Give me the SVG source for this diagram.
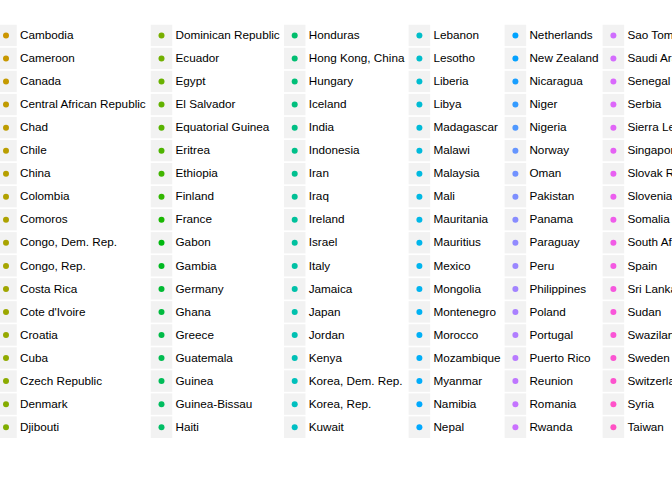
<svg xmlns="http://www.w3.org/2000/svg" width="672" height="480" viewBox="0 0 672 480">
<style>
.k{fill:#F2F2F2;stroke:#FFFFFF;stroke-width:1.5}
.t{font-family:"Liberation Sans",Arial,sans-serif;font-size:11.73px;fill:#000000}
</style>
<defs>
<rect id="key" x="-11.52" y="-11.52" width="23.04" height="23.04"/>
</defs>
<rect x="0" y="0" width="672" height="480" fill="#FFFFFF"/>
<g id="legend">
<g id="col1">
<g id="n-cambodia" transform="translate(6,35.5)"><use href="#key" class="k"/><circle r="3" fill="#CC9600"/><text class="t" x="14" y="3.6">Cambodia</text></g>
<g id="n-cameroon" transform="translate(6,58.54)"><use href="#key" class="k"/><circle r="3" fill="#C89800"/><text class="t" x="14" y="3.6">Cameroon</text></g>
<g id="n-canada" transform="translate(6,81.58)"><use href="#key" class="k"/><circle r="3" fill="#C59A00"/><text class="t" x="14" y="3.6">Canada</text></g>
<g id="n-car" transform="translate(6,104.62)"><use href="#key" class="k"/><circle r="3" fill="#C19B00"/><text class="t" x="14" y="3.6">Central African Republic</text></g>
<g id="n-chad" transform="translate(6,127.66)"><use href="#key" class="k"/><circle r="3" fill="#BD9C00"/><text class="t" x="14" y="3.6">Chad</text></g>
<g id="n-chile" transform="translate(6,150.7)"><use href="#key" class="k"/><circle r="3" fill="#BA9E00"/><text class="t" x="14" y="3.6">Chile</text></g>
<g id="n-china" transform="translate(6,173.74)"><use href="#key" class="k"/><circle r="3" fill="#B69F00"/><text class="t" x="14" y="3.6">China</text></g>
<g id="n-colombia" transform="translate(6,196.78)"><use href="#key" class="k"/><circle r="3" fill="#B1A100"/><text class="t" x="14" y="3.6">Colombia</text></g>
<g id="n-comoros" transform="translate(6,219.82)"><use href="#key" class="k"/><circle r="3" fill="#ADA200"/><text class="t" x="14" y="3.6">Comoros</text></g>
<g id="n-congo-dem" transform="translate(6,242.86)"><use href="#key" class="k"/><circle r="3" fill="#A9A300"/><text class="t" x="14" y="3.6">Congo, Dem. Rep.</text></g>
<g id="n-congo-rep" transform="translate(6,265.9)"><use href="#key" class="k"/><circle r="3" fill="#A5A500"/><text class="t" x="14" y="3.6">Congo, Rep.</text></g>
<g id="n-costa-rica" transform="translate(6,288.94)"><use href="#key" class="k"/><circle r="3" fill="#A0A600"/><text class="t" x="14" y="3.6">Costa Rica</text></g>
<g id="n-cote-divoire" transform="translate(6,311.98)"><use href="#key" class="k"/><circle r="3" fill="#9BA700"/><text class="t" x="14" y="3.6">Cote d'Ivoire</text></g>
<g id="n-croatia" transform="translate(6,335.02)"><use href="#key" class="k"/><circle r="3" fill="#96A900"/><text class="t" x="14" y="3.6">Croatia</text></g>
<g id="n-cuba" transform="translate(6,358.06)"><use href="#key" class="k"/><circle r="3" fill="#90AA00"/><text class="t" x="14" y="3.6">Cuba</text></g>
<g id="n-czech" transform="translate(6,381.1)"><use href="#key" class="k"/><circle r="3" fill="#8BAB00"/><text class="t" x="14" y="3.6">Czech Republic</text></g>
<g id="n-denmark" transform="translate(6,404.14)"><use href="#key" class="k"/><circle r="3" fill="#85AC00"/><text class="t" x="14" y="3.6">Denmark</text></g>
<g id="n-djibouti" transform="translate(6,427.18)"><use href="#key" class="k"/><circle r="3" fill="#7FAD00"/><text class="t" x="14" y="3.6">Djibouti</text></g>
</g>
<g id="col2">
<g id="n-dominican" transform="translate(161.5,35.5)"><use href="#key" class="k"/><circle r="3" fill="#78AF00"/><text class="t" x="14" y="3.6">Dominican Republic</text></g>
<g id="n-ecuador" transform="translate(161.5,58.54)"><use href="#key" class="k"/><circle r="3" fill="#71B000"/><text class="t" x="14" y="3.6">Ecuador</text></g>
<g id="n-egypt" transform="translate(161.5,81.58)"><use href="#key" class="k"/><circle r="3" fill="#69B100"/><text class="t" x="14" y="3.6">Egypt</text></g>
<g id="n-el-salvador" transform="translate(161.5,104.62)"><use href="#key" class="k"/><circle r="3" fill="#62B200"/><text class="t" x="14" y="3.6">El Salvador</text></g>
<g id="n-eq-guinea" transform="translate(161.5,127.66)"><use href="#key" class="k"/><circle r="3" fill="#58B300"/><text class="t" x="14" y="3.6">Equatorial Guinea</text></g>
<g id="n-eritrea" transform="translate(161.5,150.7)"><use href="#key" class="k"/><circle r="3" fill="#4EB400"/><text class="t" x="14" y="3.6">Eritrea</text></g>
<g id="n-ethiopia" transform="translate(161.5,173.74)"><use href="#key" class="k"/><circle r="3" fill="#41B500"/><text class="t" x="14" y="3.6">Ethiopia</text></g>
<g id="n-finland" transform="translate(161.5,196.78)"><use href="#key" class="k"/><circle r="3" fill="#31B600"/><text class="t" x="14" y="3.6">Finland</text></g>
<g id="n-france" transform="translate(161.5,219.82)"><use href="#key" class="k"/><circle r="3" fill="#19B701"/><text class="t" x="14" y="3.6">France</text></g>
<g id="n-gabon" transform="translate(161.5,242.86)"><use href="#key" class="k"/><circle r="3" fill="#00B80F"/><text class="t" x="14" y="3.6">Gabon</text></g>
<g id="n-gambia" transform="translate(161.5,265.9)"><use href="#key" class="k"/><circle r="3" fill="#00B920"/><text class="t" x="14" y="3.6">Gambia</text></g>
<g id="n-germany" transform="translate(161.5,288.94)"><use href="#key" class="k"/><circle r="3" fill="#00BA32"/><text class="t" x="14" y="3.6">Germany</text></g>
<g id="n-ghana" transform="translate(161.5,311.98)"><use href="#key" class="k"/><circle r="3" fill="#00BA3E"/><text class="t" x="14" y="3.6">Ghana</text></g>
<g id="n-greece" transform="translate(161.5,335.02)"><use href="#key" class="k"/><circle r="3" fill="#00BB47"/><text class="t" x="14" y="3.6">Greece</text></g>
<g id="n-guatemala" transform="translate(161.5,358.06)"><use href="#key" class="k"/><circle r="3" fill="#00BC50"/><text class="t" x="14" y="3.6">Guatemala</text></g>
<g id="n-guinea" transform="translate(161.5,381.1)"><use href="#key" class="k"/><circle r="3" fill="#00BC58"/><text class="t" x="14" y="3.6">Guinea</text></g>
<g id="n-guinea-bissau" transform="translate(161.5,404.14)"><use href="#key" class="k"/><circle r="3" fill="#00BD5F"/><text class="t" x="14" y="3.6">Guinea-Bissau</text></g>
<g id="n-haiti" transform="translate(161.5,427.18)"><use href="#key" class="k"/><circle r="3" fill="#00BE65"/><text class="t" x="14" y="3.6">Haiti</text></g>
</g>
<g id="col3">
<g id="n-honduras" transform="translate(294.7,35.5)"><use href="#key" class="k"/><circle r="3" fill="#00BE6C"/><text class="t" x="14" y="3.6">Honduras</text></g>
<g id="n-hong-kong" transform="translate(294.7,58.54)"><use href="#key" class="k"/><circle r="3" fill="#00BE72"/><text class="t" x="14" y="3.6">Hong Kong, China</text></g>
<g id="n-hungary" transform="translate(294.7,81.58)"><use href="#key" class="k"/><circle r="3" fill="#00BF78"/><text class="t" x="14" y="3.6">Hungary</text></g>
<g id="n-iceland" transform="translate(294.7,104.62)"><use href="#key" class="k"/><circle r="3" fill="#00BF7E"/><text class="t" x="14" y="3.6">Iceland</text></g>
<g id="n-india" transform="translate(294.7,127.66)"><use href="#key" class="k"/><circle r="3" fill="#00BF84"/><text class="t" x="14" y="3.6">India</text></g>
<g id="n-indonesia" transform="translate(294.7,150.7)"><use href="#key" class="k"/><circle r="3" fill="#00C08A"/><text class="t" x="14" y="3.6">Indonesia</text></g>
<g id="n-iran" transform="translate(294.7,173.74)"><use href="#key" class="k"/><circle r="3" fill="#00C08F"/><text class="t" x="14" y="3.6">Iran</text></g>
<g id="n-iraq" transform="translate(294.7,196.78)"><use href="#key" class="k"/><circle r="3" fill="#00C095"/><text class="t" x="14" y="3.6">Iraq</text></g>
<g id="n-ireland" transform="translate(294.7,219.82)"><use href="#key" class="k"/><circle r="3" fill="#00C19B"/><text class="t" x="14" y="3.6">Ireland</text></g>
<g id="n-israel" transform="translate(294.7,242.86)"><use href="#key" class="k"/><circle r="3" fill="#00C19F"/><text class="t" x="14" y="3.6">Israel</text></g>
<g id="n-italy" transform="translate(294.7,265.9)"><use href="#key" class="k"/><circle r="3" fill="#00C1A4"/><text class="t" x="14" y="3.6">Italy</text></g>
<g id="n-jamaica" transform="translate(294.7,288.94)"><use href="#key" class="k"/><circle r="3" fill="#00C1A9"/><text class="t" x="14" y="3.6">Jamaica</text></g>
<g id="n-japan" transform="translate(294.7,311.98)"><use href="#key" class="k"/><circle r="3" fill="#00C1AD"/><text class="t" x="14" y="3.6">Japan</text></g>
<g id="n-jordan" transform="translate(294.7,335.02)"><use href="#key" class="k"/><circle r="3" fill="#00C0B2"/><text class="t" x="14" y="3.6">Jordan</text></g>
<g id="n-kenya" transform="translate(294.7,358.06)"><use href="#key" class="k"/><circle r="3" fill="#00C0B6"/><text class="t" x="14" y="3.6">Kenya</text></g>
<g id="n-korea-dem" transform="translate(294.7,381.1)"><use href="#key" class="k"/><circle r="3" fill="#00C0BB"/><text class="t" x="14" y="3.6">Korea, Dem. Rep.</text></g>
<g id="n-korea-rep" transform="translate(294.7,404.14)"><use href="#key" class="k"/><circle r="3" fill="#00BFBF"/><text class="t" x="14" y="3.6">Korea, Rep.</text></g>
<g id="n-kuwait" transform="translate(294.7,427.18)"><use href="#key" class="k"/><circle r="3" fill="#00BFC4"/><text class="t" x="14" y="3.6">Kuwait</text></g>
</g>
<g id="col4">
<g id="n-lebanon" transform="translate(419.4,35.5)"><use href="#key" class="k"/><circle r="3" fill="#00BEC8"/><text class="t" x="14" y="3.6">Lebanon</text></g>
<g id="n-lesotho" transform="translate(419.4,58.54)"><use href="#key" class="k"/><circle r="3" fill="#00BECC"/><text class="t" x="14" y="3.6">Lesotho</text></g>
<g id="n-liberia" transform="translate(419.4,81.58)"><use href="#key" class="k"/><circle r="3" fill="#00BDD0"/><text class="t" x="14" y="3.6">Liberia</text></g>
<g id="n-libya" transform="translate(419.4,104.62)"><use href="#key" class="k"/><circle r="3" fill="#00BCD4"/><text class="t" x="14" y="3.6">Libya</text></g>
<g id="n-madagascar" transform="translate(419.4,127.66)"><use href="#key" class="k"/><circle r="3" fill="#00BBD8"/><text class="t" x="14" y="3.6">Madagascar</text></g>
<g id="n-malawi" transform="translate(419.4,150.7)"><use href="#key" class="k"/><circle r="3" fill="#00BADC"/><text class="t" x="14" y="3.6">Malawi</text></g>
<g id="n-malaysia" transform="translate(419.4,173.74)"><use href="#key" class="k"/><circle r="3" fill="#00BAE0"/><text class="t" x="14" y="3.6">Malaysia</text></g>
<g id="n-mali" transform="translate(419.4,196.78)"><use href="#key" class="k"/><circle r="3" fill="#00B9E3"/><text class="t" x="14" y="3.6">Mali</text></g>
<g id="n-mauritania" transform="translate(419.4,219.82)"><use href="#key" class="k"/><circle r="3" fill="#00B8E7"/><text class="t" x="14" y="3.6">Mauritania</text></g>
<g id="n-mauritius" transform="translate(419.4,242.86)"><use href="#key" class="k"/><circle r="3" fill="#00B6EB"/><text class="t" x="14" y="3.6">Mauritius</text></g>
<g id="n-mexico" transform="translate(419.4,265.9)"><use href="#key" class="k"/><circle r="3" fill="#00B5EE"/><text class="t" x="14" y="3.6">Mexico</text></g>
<g id="n-mongolia" transform="translate(419.4,288.94)"><use href="#key" class="k"/><circle r="3" fill="#00B4F0"/><text class="t" x="14" y="3.6">Mongolia</text></g>
<g id="n-montenegro" transform="translate(419.4,311.98)"><use href="#key" class="k"/><circle r="3" fill="#00B2F3"/><text class="t" x="14" y="3.6">Montenegro</text></g>
<g id="n-morocco" transform="translate(419.4,335.02)"><use href="#key" class="k"/><circle r="3" fill="#00B0F6"/><text class="t" x="14" y="3.6">Morocco</text></g>
<g id="n-mozambique" transform="translate(419.4,358.06)"><use href="#key" class="k"/><circle r="3" fill="#00AFF8"/><text class="t" x="14" y="3.6">Mozambique</text></g>
<g id="n-myanmar" transform="translate(419.4,381.1)"><use href="#key" class="k"/><circle r="3" fill="#00ADFB"/><text class="t" x="14" y="3.6">Myanmar</text></g>
<g id="n-namibia" transform="translate(419.4,404.14)"><use href="#key" class="k"/><circle r="3" fill="#00AAFE"/><text class="t" x="14" y="3.6">Namibia</text></g>
<g id="n-nepal" transform="translate(419.4,427.18)"><use href="#key" class="k"/><circle r="3" fill="#00A9FF"/><text class="t" x="14" y="3.6">Nepal</text></g>
</g>
<g id="col5">
<g id="n-netherlands" transform="translate(515.4,35.5)"><use href="#key" class="k"/><circle r="3" fill="#00A3FF"/><text class="t" x="14" y="3.6">Netherlands</text></g>
<g id="n-new-zealand" transform="translate(515.4,58.54)"><use href="#key" class="k"/><circle r="3" fill="#04A1FF"/><text class="t" x="14" y="3.6">New Zealand</text></g>
<g id="n-nicaragua" transform="translate(515.4,81.58)"><use href="#key" class="k"/><circle r="3" fill="#199EFF"/><text class="t" x="14" y="3.6">Nicaragua</text></g>
<g id="n-niger" transform="translate(515.4,104.62)"><use href="#key" class="k"/><circle r="3" fill="#349BFF"/><text class="t" x="14" y="3.6">Niger</text></g>
<g id="n-nigeria" transform="translate(515.4,127.66)"><use href="#key" class="k"/><circle r="3" fill="#4F98FF"/><text class="t" x="14" y="3.6">Nigeria</text></g>
<g id="n-norway" transform="translate(515.4,150.7)"><use href="#key" class="k"/><circle r="3" fill="#6595FF"/><text class="t" x="14" y="3.6">Norway</text></g>
<g id="n-oman" transform="translate(515.4,173.74)"><use href="#key" class="k"/><circle r="3" fill="#7192FF"/><text class="t" x="14" y="3.6">Oman</text></g>
<g id="n-pakistan" transform="translate(515.4,196.78)"><use href="#key" class="k"/><circle r="3" fill="#7D8FFF"/><text class="t" x="14" y="3.6">Pakistan</text></g>
<g id="n-panama" transform="translate(515.4,219.82)"><use href="#key" class="k"/><circle r="3" fill="#888CFF"/><text class="t" x="14" y="3.6">Panama</text></g>
<g id="n-paraguay" transform="translate(515.4,242.86)"><use href="#key" class="k"/><circle r="3" fill="#918AFF"/><text class="t" x="14" y="3.6">Paraguay</text></g>
<g id="n-peru" transform="translate(515.4,265.9)"><use href="#key" class="k"/><circle r="3" fill="#9A86FF"/><text class="t" x="14" y="3.6">Peru</text></g>
<g id="n-philippines" transform="translate(515.4,288.94)"><use href="#key" class="k"/><circle r="3" fill="#A283FF"/><text class="t" x="14" y="3.6">Philippines</text></g>
<g id="n-poland" transform="translate(515.4,311.98)"><use href="#key" class="k"/><circle r="3" fill="#A980FF"/><text class="t" x="14" y="3.6">Poland</text></g>
<g id="n-portugal" transform="translate(515.4,335.02)"><use href="#key" class="k"/><circle r="3" fill="#B17DFF"/><text class="t" x="14" y="3.6">Portugal</text></g>
<g id="n-puerto-rico" transform="translate(515.4,358.06)"><use href="#key" class="k"/><circle r="3" fill="#B87AFF"/><text class="t" x="14" y="3.6">Puerto Rico</text></g>
<g id="n-reunion" transform="translate(515.4,381.1)"><use href="#key" class="k"/><circle r="3" fill="#BE76FF"/><text class="t" x="14" y="3.6">Reunion</text></g>
<g id="n-romania" transform="translate(515.4,404.14)"><use href="#key" class="k"/><circle r="3" fill="#C473FF"/><text class="t" x="14" y="3.6">Romania</text></g>
<g id="n-rwanda" transform="translate(515.4,427.18)"><use href="#key" class="k"/><circle r="3" fill="#CA70FF"/><text class="t" x="14" y="3.6">Rwanda</text></g>
</g>
<g id="col6">
<g id="n-sao-tome" transform="translate(613.4,35.5)"><use href="#key" class="k"/><circle r="3" fill="#CF6EFE"/><text class="t" x="14" y="3.6">Sao Tome and Principe</text></g>
<g id="n-saudi-arabia" transform="translate(613.4,58.54)"><use href="#key" class="k"/><circle r="3" fill="#D46CFE"/><text class="t" x="14" y="3.6">Saudi Arabia</text></g>
<g id="n-senegal" transform="translate(613.4,81.58)"><use href="#key" class="k"/><circle r="3" fill="#D969FC"/><text class="t" x="14" y="3.6">Senegal</text></g>
<g id="n-serbia" transform="translate(613.4,104.62)"><use href="#key" class="k"/><circle r="3" fill="#DD67FA"/><text class="t" x="14" y="3.6">Serbia</text></g>
<g id="n-sierra-leone" transform="translate(613.4,127.66)"><use href="#key" class="k"/><circle r="3" fill="#E165F7"/><text class="t" x="14" y="3.6">Sierra Leone</text></g>
<g id="n-singapore" transform="translate(613.4,150.7)"><use href="#key" class="k"/><circle r="3" fill="#E562F4"/><text class="t" x="14" y="3.6">Singapore</text></g>
<g id="n-slovak" transform="translate(613.4,173.74)"><use href="#key" class="k"/><circle r="3" fill="#E860F2"/><text class="t" x="14" y="3.6">Slovak Republic</text></g>
<g id="n-slovenia" transform="translate(613.4,196.78)"><use href="#key" class="k"/><circle r="3" fill="#EC5EEE"/><text class="t" x="14" y="3.6">Slovenia</text></g>
<g id="n-somalia" transform="translate(613.4,219.82)"><use href="#key" class="k"/><circle r="3" fill="#EF5CEA"/><text class="t" x="14" y="3.6">Somalia</text></g>
<g id="n-south-africa" transform="translate(613.4,242.86)"><use href="#key" class="k"/><circle r="3" fill="#F15BE6"/><text class="t" x="14" y="3.6">South Africa</text></g>
<g id="n-spain" transform="translate(613.4,265.9)"><use href="#key" class="k"/><circle r="3" fill="#F459E2"/><text class="t" x="14" y="3.6">Spain</text></g>
<g id="n-sri-lanka" transform="translate(613.4,288.94)"><use href="#key" class="k"/><circle r="3" fill="#F657DE"/><text class="t" x="14" y="3.6">Sri Lanka</text></g>
<g id="n-sudan" transform="translate(613.4,311.98)"><use href="#key" class="k"/><circle r="3" fill="#F956DA"/><text class="t" x="14" y="3.6">Sudan</text></g>
<g id="n-swaziland" transform="translate(613.4,335.02)"><use href="#key" class="k"/><circle r="3" fill="#FA55D6"/><text class="t" x="14" y="3.6">Swaziland</text></g>
<g id="n-sweden" transform="translate(613.4,358.06)"><use href="#key" class="k"/><circle r="3" fill="#FB54D2"/><text class="t" x="14" y="3.6">Sweden</text></g>
<g id="n-switzerland" transform="translate(613.4,381.1)"><use href="#key" class="k"/><circle r="3" fill="#FD53CE"/><text class="t" x="14" y="3.6">Switzerland</text></g>
<g id="n-syria" transform="translate(613.4,404.14)"><use href="#key" class="k"/><circle r="3" fill="#FF52C9"/><text class="t" x="14" y="3.6">Syria</text></g>
<g id="n-taiwan" transform="translate(613.4,427.18)"><use href="#key" class="k"/><circle r="3" fill="#FF51C4"/><text class="t" x="14" y="3.6">Taiwan</text></g>
</g>
</g>
</svg>
